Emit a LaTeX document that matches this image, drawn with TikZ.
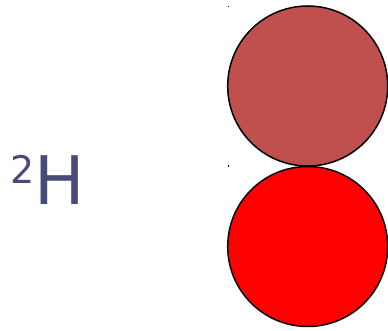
\documentclass[tikz,border=0pt]{standalone}
\usepackage{fontspec}
\setmainfont{DejaVu Sans}
\definecolor{labelblue}{RGB}{74,74,122}
\definecolor{topred}{RGB}{192,80,77}
\definecolor{botred}{RGB}{255,0,0}
\begin{document}
\begin{tikzpicture}[x=1pt,y=1pt,
  ball/.style={circle,draw=black,line width=1.5pt,minimum size=160pt,inner sep=0pt},
  speck/.style={fill=black,inner sep=0pt,minimum size=1.2pt}]
\useasboundingbox (0,0) rectangle (388,331);
\node[ball,fill=topred] (top) at (307.7,245) {};
\node[ball,fill=botred] (bot) at (307.7,84.5) {};
\node[speck] (s1) at (228.3,324.5) {};
\node[speck] (s2) at (228.3,165) {};
\node[anchor=base west,inner sep=0pt,text=labelblue] (lbl) at (10.5,126)
  {{\fontsize{38}{40}\selectfont\raisebox{21pt}{2}}\fontsize{67}{70}\selectfont H};
\end{tikzpicture}
\end{document}
